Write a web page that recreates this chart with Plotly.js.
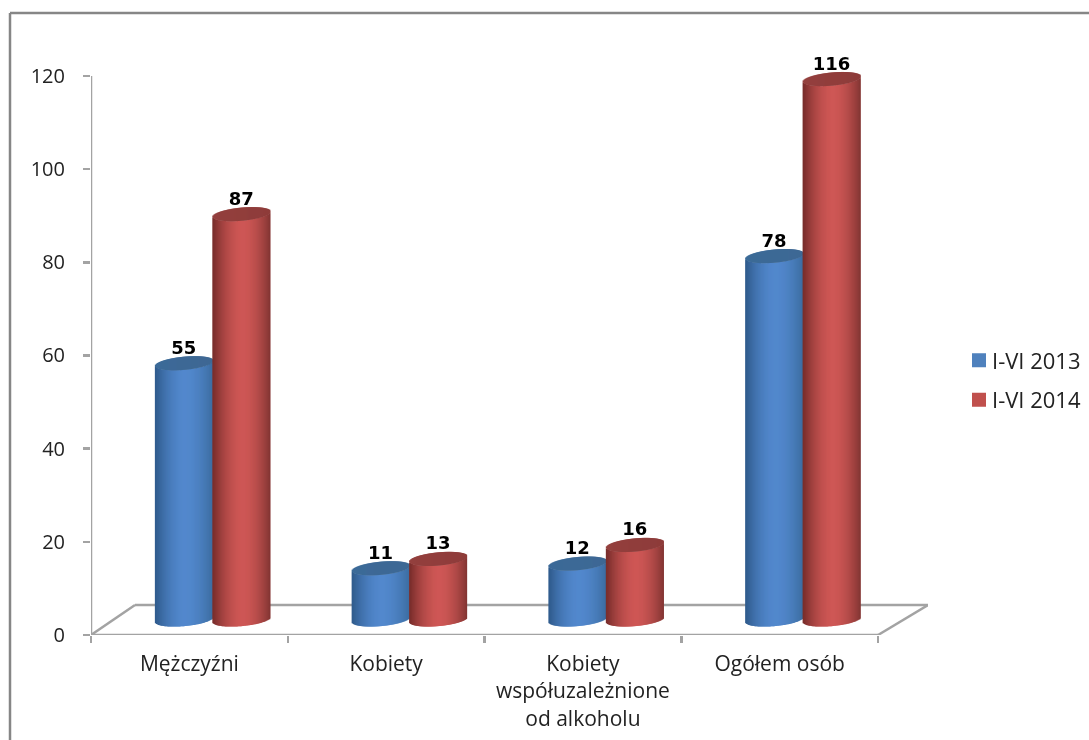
<!DOCTYPE html>
<html>
<head>
<meta charset="utf-8">
<script src="https://cdn.plot.ly/plotly-3.0.1.min.js"></script>
<style>
html,body{margin:0;padding:0;background:#fff;overflow:hidden}
#chart{width:1089px;height:740px;filter:blur(0.45px)}
</style>
</head>
<body>
<div id="chart"></div>
<script>
var categories = ["Mężczyźni", "Kobiety", "Kobiety<br>współuzależnione<br>od alkoholu", "Ogółem osób"];
var seriesNames = ["I-VI 2013", "I-VI 2014"];
var values2013 = [55, 11, 12, 78];
var values2014 = [87, 13, 16, 116];
var yTicks = [0, 20, 40, 60, 80, 100, 120];

var W = 1089, H = 740;
var pxY = 559 / 120;
var xRange = [-0.5, 3.754], yRange = [0, 132];
var M = {l: 91, r: 161, t: 635 - 132 * pxY, b: 105, autoexpand: false};
var pxX = (W - M.l - M.r) / (xRange[1] - xRange[0]);

var depthY = 15.5 / pxY;        // cylinders stand in the middle of the floor
var halfW = 29;                 // px
var capH = 6.6 / pxY;
var tilt = 2.6 / pxY;
var axisCol = "#a3a3a3";

function mix(a, b, t) {
  return "rgb(" + a.map(function (v, i) { return Math.round(v + (b[i] - v) * t); }).join(",") + ")";
}
function buildCylinders(values, shift, edgeL, edgeR, peak, capL, capR) {
  var body = {x: [], y: [], base: [], width: [], color: []};
  var cap = {x: [], y: [], base: [], width: [], color: []};
  values.forEach(function (v, k) {
    for (var i = 0; i < 2 * halfW; i++) {
      var u = (i + 0.5) / halfW - 1;
      var s = Math.sqrt(1 - u * u);
      var lift = depthY + tilt * u;
      // each strip is painted 2px wide and overlapped by the next, so no seams show
      var last = i === 2 * halfW - 1;
      var wPx = last ? 1 : 2;
      var cx = k + shift + (u * halfW + (last ? 0 : 0.5)) / pxX;
      var t = 1 - Math.pow(Math.abs(u - 0.04), 1.8);
      body.x.push(cx); body.y.push(v); body.base.push(lift - capH * s);
      body.width.push(wPx / pxX);
      body.color.push(mix(u < 0 ? edgeL : edgeR, peak, Math.max(0, t)));
      cap.x.push(cx); cap.y.push(2 * capH * s); cap.base.push(v + lift - capH * s);
      cap.width.push(wPx / pxX);
      cap.color.push(mix(capL, capR, (u + 1) / 2));
    }
  });
  function tr(d) {
    return {type: "bar", x: d.x, y: d.y, base: d.base, width: d.width,
      marker: {color: d.color, opacity: 1, line: {width: 0}}, showlegend: false,
      hoverinfo: "skip", cliponaxis: false};
  }
  return [tr(body), tr(cap)];
}
var blueShift = -0.028, redShift = 0.264;
var blue = buildCylinders(values2013, blueShift, [48, 92, 142], [58, 106, 156], [82, 136, 205], [60, 106, 152], [62, 104, 148]);
var red = buildCylinders(values2014, redShift, [122, 46, 44], [124, 50, 48], [206, 87, 85], [148, 64, 62], [142, 60, 58]);

function labels(values, shift) {
  return {type: "scatter", mode: "text",
    x: values.map(function (v, k) { return k + shift; }),
    y: values.map(function (v) { return v + depthY + 14 / pxY; }),
    text: values.map(String),
    textposition: "middle center",
    textfont: {family: "DejaVu Sans", size: 18, color: "#000", weight: 700},
    showlegend: false, hoverinfo: "skip"};
}
function legendItem(name, color) {
  return {type: "bar", name: name, x: [0], y: [null], legendgroup: name,
    marker: {color: color, opacity: 1, line: {color: color, width: 2}}, hoverinfo: "skip"};
}
var traces = blue.concat(red, [labels(values2013, blueShift), labels(values2014, redShift),
  legendItem(seriesNames[0], "#4f81bd"), legendItem(seriesNames[1], "#c0504d")]);

function ln(x0, y0, x1, y1) {
  return {type: "line", xref: "x", yref: "y", x0: x0, y0: y0, x1: x1, y1: y1,
    layer: "below", line: {color: axisCol, width: 2.5}};
}
function frame(x0, y0, x1, y1) {
  return {type: "line", xref: "paper", yref: "paper",
    x0: (x0 - M.l) / (W - M.l - M.r), x1: (x1 - M.l) / (W - M.l - M.r),
    y0: (H - M.b - y0) / (H - M.t - M.b), y1: (H - M.b - y1) / (H - M.t - M.b),
    layer: "below", line: {color: "#868686", width: 2.5}};
}
var floorX = 44 / pxX, floorY = 30 / pxY;
var shapes = [
  ln(-0.5, 0, 3.5, 0),
  ln(-0.5, 0, -0.5, 120),
  ln(-0.5, 0, -0.5 + floorX, floorY),
  ln(-0.5 + floorX, floorY, xRange[1], floorY),
  ln(xRange[1], floorY, 3.5, 0),
  frame(10, 13, 1089, 13),
  frame(10, 13, 10, 740)
];

var font = {family: "'Open Sans', sans-serif", size: 20, color: "#222"};
var xFont = {family: "'Open Sans', sans-serif", size: 21, color: "#222"};
var legendFont = {family: "'Open Sans', sans-serif", size: 22, color: "#222"};
var layout = {
  width: W, height: H, margin: M, paper_bgcolor: "#fff", plot_bgcolor: "rgba(0,0,0,0)",
  barmode: "overlay", showlegend: true, font: font, shapes: shapes,
  xaxis: {range: xRange, type: "linear", showgrid: false, zeroline: false, showline: false,
    tickmode: "array", tickvals: [0, 1, 2, 3], ticktext: categories, ticks: "",
    ticklabelstandoff: 14, tickfont: xFont, fixedrange: true, automargin: false,
    minor: {tickmode: "array", tickvals: [-0.5, 0.5, 1.5, 2.5, 3.5], ticks: "outside",
      ticklen: 7, tickwidth: 2.5, tickcolor: axisCol, showgrid: false}},
  yaxis: {range: yRange, showgrid: false, zeroline: false, showline: false,
    tickmode: "array", tickvals: yTicks, ticks: "outside", ticklen: 7, tickwidth: 2.5, tickcolor: axisCol,
    ticklabelstandoff: 14, tickfont: font, fixedrange: true, automargin: false},
  legend: {x: (952 - M.l) / (W - M.l - M.r), xanchor: "left", y: (H - M.b - 380.5) / (H - M.t - M.b), yanchor: "middle",
    font: legendFont, tracegroupgap: 8, bgcolor: "rgba(0,0,0,0)", borderwidth: 0}
};
Plotly.newPlot("chart", traces, layout, {displayModeBar: false, staticPlot: true}).then(function () {
  // the reference keeps its swatches closer to the legend text
  document.querySelectorAll("#chart .legendsymbols").forEach(function (g) {
    g.setAttribute("transform", "translate(7,0)");
  });
});
</script>
</body>
</html>
